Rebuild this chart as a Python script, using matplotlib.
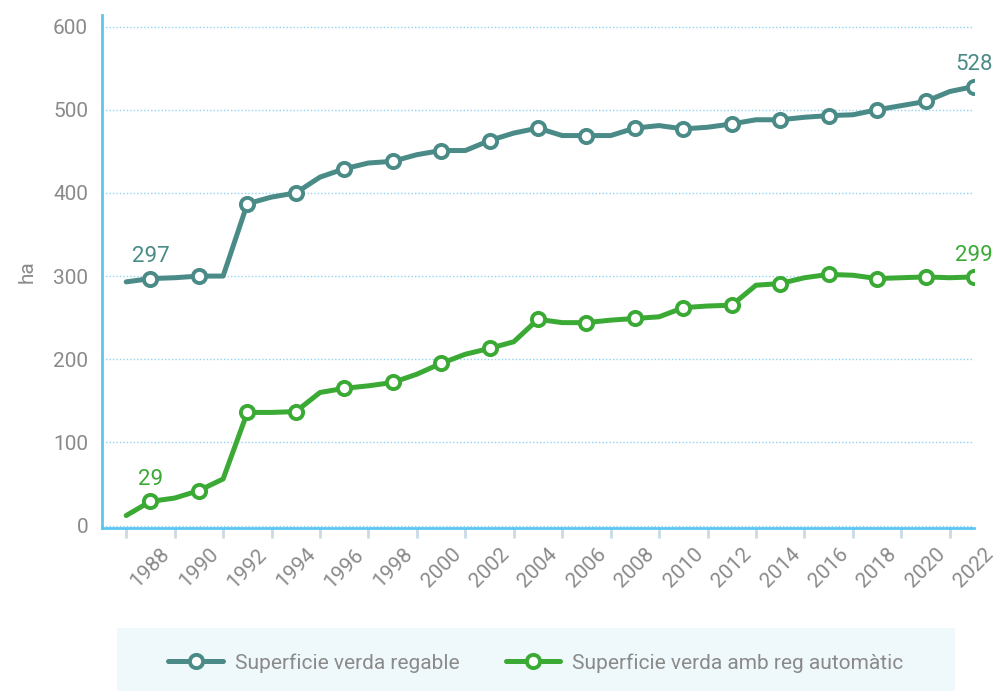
import numpy as np
import matplotlib
matplotlib.use("Agg")
import matplotlib.pyplot as plt
from matplotlib.patches import Rectangle

plt.rcParams['font.family'] = ['Roboto', 'DejaVu Sans']

# dades: superfície verda (ha) per any
anys = list(range(1987, 2023))
regable = [293, 297, 298, 300, 300, 387, 395, 400, 419, 429, 436, 438,
           446, 451, 451, 463, 472, 478, 469, 469, 469, 478, 481, 477,
           479, 483, 488, 488, 491, 493, 494, 500, 505, 510, 522, 528]
automatic = [12, 29, 33, 42, 56, 136, 136, 137, 160, 165, 168, 172,
             182, 195, 206, 213, 221, 248, 244, 244, 247, 249, 251, 262,
             264, 265, 289, 291, 298, 302, 301, 297, 298, 299, 298, 299]
etiquetes_x = [str(a) for a in range(1988, 2023, 2)]
noms = ["Superficie verda regable", "Superficie verda amb reg automàtic"]

c_teal = '#4a8b88'
c_verd = '#3aaa35'
c_eix = '#5cc6f0'
c_text = '#8a8a8a'

fig = plt.figure(figsize=(9.97, 6.91), dpi=100)
ax = fig.add_axes([102/997, 1 - 528/691, (974 - 102)/997, (528 - 15)/691])

linies = []
for vals, col, nom in [(regable, c_teal, noms[0]), (automatic, c_verd, noms[1])]:
    l, = ax.plot(anys, vals, color=col, lw=3.6, marker='o', markevery=(1, 2),
                 markersize=9.5, markerfacecolor='white', markeredgecolor=col,
                 markeredgewidth=2.8, label=nom, solid_joinstyle='round',
                 solid_capstyle='round', zorder=3)
    linies.append(l)

# valors inicial i final
for vals, col in [(regable, c_teal), (automatic, c_verd)]:
    for i in (1, len(anys) - 1):
        ax.annotate(str(vals[i]), (anys[i], vals[i]), xytext=(0, 8),
                    textcoords='offset points', ha='center', va='bottom',
                    color=col, fontsize=16)

ax.set_xlim(1986, 2022)
ax.set_ylim(-3, 614)

ax.set_yticks([0, 100, 200, 300, 400, 500, 600])
ax.yaxis.grid(True, color='#8fd4f2', lw=1, ls=(0, (1, 1.5)))
ax.set_axisbelow(True)

ax.set_xticks(range(1988, 2023, 2))
ax.set_xticklabels(etiquetes_x, rotation=45, ha='center', va='top')
ax.set_xticks(range(1987, 2022, 2), minor=True)
ax.tick_params(axis='x', which='major', length=0, pad=12, labelsize=15,
               labelcolor=c_text)
ax.tick_params(axis='x', which='minor', length=7, width=2, color='#c9dbe3')
ax.tick_params(axis='y', length=0, pad=10, labelsize=15, labelcolor=c_text)

for s in ['top', 'right']:
    ax.spines[s].set_visible(False)
for s in ['left', 'bottom']:
    ax.spines[s].set_color(c_eix)
    ax.spines[s].set_linewidth(2)

ax.set_ylabel('ha', color=c_text, fontsize=15, labelpad=12)

# caixa de la llegenda
fig.patches.append(Rectangle((117/997, 0), (955 - 117)/997, 63/691,
                             transform=fig.transFigure, facecolor='#eff8fb',
                             edgecolor='none', zorder=0))
leg = fig.legend(handles=linies, loc='center', bbox_to_anchor=(536/997, 1 - 663/691),
                 ncol=2, frameon=False, fontsize=15, handlelength=2.6,
                 handletextpad=0.6, columnspacing=2.2, numpoints=1)
for t in leg.get_texts():
    t.set_color(c_text)

fig.savefig('out.png', dpi=100)
